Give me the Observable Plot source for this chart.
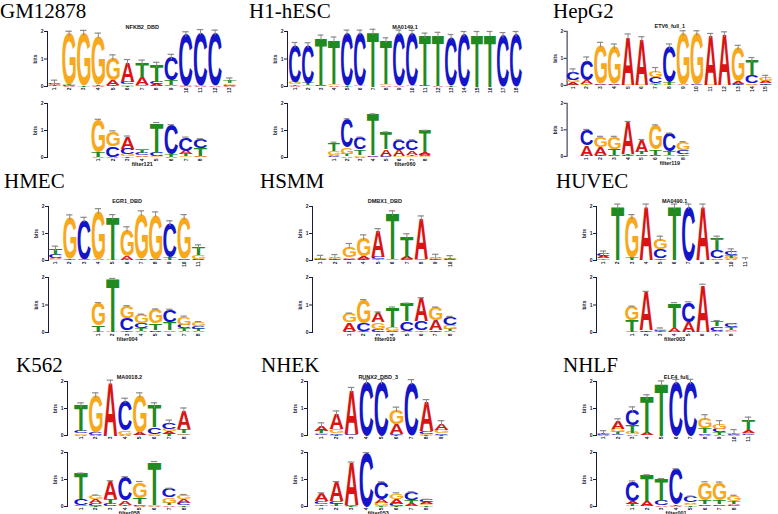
<!DOCTYPE html>
<html><head><meta charset="utf-8">
<script src="https://cdn.jsdelivr.net/npm/d3@7"></script>
<script src="https://cdn.jsdelivr.net/npm/@observablehq/plot@0.6"></script>
<style>
html,body{margin:0;padding:0;background:#fff;overflow:hidden}
#wrap{position:relative;width:778px;height:514px;overflow:hidden;background:#fff}
.cell{position:absolute;font-family:"Liberation Serif","Times New Roman",serif;font-size:21px;line-height:23px;color:#000;white-space:nowrap}
.logo{position:absolute;line-height:0}
.logo svg{overflow:visible}
</style></head><body><div id="wrap"></div>
<script>
// ---------------- data ----------------
const cells = ["GM12878","H1-hESC","HepG2","HMEC","HSMM","HUVEC","K562","NHEK","NHLF"];
const motifNames = ["NFKB2_DBD","MA0149.1","ETV6_full_1","EGR1_DBD","DMBX1_DBD","MA0490.1","MA0018.2","RUNX2_DBD_3","ELF4_full"];
const filterNames = ["filter121","filter060","filter119","filter004","filter019","filter003","filter058","filter053","filter001"];
// offset of filter position 1 within the motif
const filterOffsets = [3,3,1,3,2,2,0,0,2];
const letters = ["A","C","G","T"];
const bitTicks = [0,1,2];

const gm12878Motif = [
 {A:.04,C:.05,G:.02,T:.02},{A:.02,C:.02,G:1.85,T:.02},{G:1.92,T:.02},{G:1.78,T:.04,A:.02},
 {A:.18,G:.82,T:.03,C:.02},{A:.7,C:.1,G:.05,T:.03},{A:.27,T:.55,C:.02,G:.02},{T:.6,A:.08,C:.08,G:.02},
 {C:.85,T:.17,A:.03,G:.02},{C:1.85,T:.02,A:.02},{C:1.93,G:.02,A:.02},{C:1.92,A:.03},{T:.1,G:.05,A:.03,C:.03}];
const gm12878Filter = [
 {G:1.2,T:.18,A:.02},{G:.55,C:.4,A:.02},{A:.45,C:.22,G:.07,T:.04},{T:.12,C:.08,A:.05,G:.03},
 {T:1.1,C:.14,G:.04},{C:1.1,T:.07,A:.03},{C:.5,A:.12,T:.08,G:.04},{C:.35,T:.28,A:.03,G:.02}];

const h1Motif = [
 {C:1.35,G:.07,T:.06,A:.02},{C:1.37,T:.07,G:.05},{T:1.72,A:.03,C:.02},{T:1.6,G:.05,A:.05},
 {C:1.93,T:.02},{C:1.93,G:.02},{T:1.98},{T:1.58,G:.05,A:.04},{C:1.93,A:.02},{C:1.92,G:.02},
 {T:1.82,C:.02},{T:1.85,A:.02},{C:1.77,T:.02},{C:1.9},{T:1.9},{T:1.9},{C:1.86},{C:1.9}];
const h1Filter = [
 {T:.3,G:.15,A:.06,C:.04},{C:1.05,G:.25,T:.07,A:.05},{C:.45,T:.2,G:.06,A:.03},{T:1.52,A:.05,C:.03},
 {T:.62,A:.25,C:.04,G:.02},{C:.38,A:.22,G:.04},{C:.38,A:.16,T:.06,G:.04},{T:.8,A:.08,C:.07,G:.04}];

const hepg2Motif = [
 {C:.3,G:.1,A:.08,T:.03},{C:.75,A:.15,G:.03,T:.02},{G:1.42,A:.04,C:.03},{G:1.35,A:.05,C:.03},
 {A:1.78,G:.02},{A:1.68,G:.02},{G:.25,C:.22,A:.05,T:.04},{C:1.33,T:.07,G:.03},{G:1.9,A:.02},
 {G:1.9,C:.02},{A:1.8,G:.02},{A:1.88},{G:1.25,A:.08,C:.03,T:.02},{T:.55,C:.3,G:.05,A:.03},
 {G:.12,A:.08,C:.05,T:.02}];
const hepg2Filter = [
 {C:.58,A:.4,T:.02},{G:.38,A:.3,C:.04,T:.02},{G:.45,T:.22,A:.05,C:.02},{A:1.2,T:.05,C:.03,G:.02},
 {A:.45,T:.08,C:.06,G:.03},{G:.92,T:.2,C:.03,A:.02},{C:.68,T:.13,G:.03,A:.02},{G:.3,C:.16,A:.05,T:.03}];

const hmecMotif = [
 {T:.22,C:.12,A:.05,G:.04},{G:1.52,A:.05,T:.02},{C:1.45,A:.03,G:.02},{G:1.8,A:.02},{T:1.58,G:.02},
 {G:.98,A:.15,T:.02},{G:1.68,T:.04,A:.02},{G:1.65,A:.03,C:.02},{C:1.25,T:.1,G:.02},
 {G:1.52,A:.06,C:.02},{T:.28,G:.13,C:.04,A:.03}];
const hmecFilter = [
 {G:.82,T:.22,A:.03},{T:1.93,G:.02},{G:.45,C:.44,T:.05,A:.02},{G:.32,C:.18,T:.1,A:.05},
 {G:.5,T:.25,C:.06,A:.03},{C:.45,T:.3,G:.05,A:.03},{G:.3,C:.12,T:.1,A:.06},{G:.15,C:.1,T:.08,A:.05}];

const hsmmMotif = [
 {G:.03,A:.02,C:.02,T:.02},{A:.04,C:.03,G:.03,T:.02},{G:.4,A:.06,C:.05,T:.02},{G:.7,A:.09,C:.04,T:.02},
 {A:.95,C:.07,G:.04,T:.02},{T:1.7,G:.02,A:.02},{T:.75,A:.07,C:.05,G:.02},{A:1.5,G:.03,C:.02},
 {A:.05,G:.04,C:.02,T:.02},{G:.02,A:.02,C:.02,T:.02}];
const hsmmFilter = [
 {G:.33,A:.3,C:.04,T:.02},{G:.85,C:.28,A:.03,T:.02},{A:.35,G:.25,C:.1,T:.03},{T:.72,G:.12,A:.05,C:.02},
 {T:.65,C:.35,A:.03,G:.02},{A:.85,C:.33,G:.04,T:.03},{G:.45,A:.38,C:.05,T:.03},{C:.3,G:.15,T:.08,A:.04}];

const huvecMotif = [
 {A:.08,C:.08,G:.06,T:.03},{T:1.99},{G:1.5,T:.1},{A:1.99},{G:.38,C:.35,A:.04,T:.03},{T:1.99},
 {C:1.99},{A:1.99},{T:.42,C:.3,A:.05,G:.03},{C:.14,T:.08,G:.07,A:.04},{A:0,C:0,G:0,T:0}];
const huvecFilter = [
 {G:.5,T:.42,A:.02},{A:1.4,C:.05,T:.03},{G:.05,C:.04,A:.03,T:.03},{T:.9,A:.15,C:.02},
 {C:.72,A:.35,T:.03},{A:1.72,G:.02},{T:.2,C:.15,A:.04,G:.03},{C:.12,T:.08,A:.06,G:.04}];

const k562Motif = [
 {T:.95,C:.08,G:.06,A:.02},{G:1.38,C:.08,A:.02},{A:1.95},{C:1.1,G:.15,A:.03},{G:1.38,A:.08,C:.02},
 {T:.8,C:.25,G:.04,A:.02},{C:.22,G:.1,A:.08,T:.07},{A:.68,T:.15,G:.06,C:.03}];
const k562Filter = [
 {T:.95,C:.22,A:.03,G:.02},{G:.15,A:.13,C:.1,T:.03},{A:.65,T:.2,C:.07,G:.02},{C:.88,A:.15,G:.03,T:.03},
 {G:.6,T:.22,C:.06,A:.03},{T:1.58,G:.05,A:.02},{C:.32,G:.2,T:.08,A:.06},{G:.16,A:.13,C:.09,T:.05}];

const nhekMotif = [
 {A:.2,T:.08,G:.05,C:.04},{A:.58,G:.15,C:.05,T:.03},{A:1.62,C:.04,G:.02},{C:1.98},{C:1.98},
 {G:.52,A:.38,C:.03,T:.02},{C:1.97},{A:1.08,C:.08,G:.05,T:.02},{A:.25,G:.12,C:.05,T:.03}];
const nhekFilter = [
 {A:.3,C:.1,T:.06,G:.03},{A:.72,C:.1,T:.07,G:.02},{A:1.58,C:.03,T:.02},{C:1.98},
 {C:.62,A:.14,G:.12,T:.02},{G:.2,A:.18,C:.08,T:.03},{C:.3,T:.12,A:.08,G:.03},{C:.08,A:.07,G:.06,T:.04}];

const nhlfMotif = [
 {A:.02,C:.02,G:.02,T:.02},{A:.28,G:.12,T:.08,C:.04},{C:.58,T:.27,G:.07,A:.04},{T:1.32,A:.07,G:.02},
 {T:1.92},{C:1.98},{C:1.98},{G:.38,T:.2,C:.06,A:.03},{G:.2,C:.12,T:.1,A:.03},{G:.05,T:.03,A:.02,C:.02},
 {T:.38,A:.1,G:.06,C:.04}];
const nhlfFilter = [
 {C:.72,A:.1,T:.08,G:.03},{T:.95,A:.18,C:.03},{T:.8,C:.18,A:.04},{C:1.3,T:.06,A:.02},
 {C:.22,A:.06,G:.05,T:.04},{G:.65,T:.16,A:.06,C:.03},{G:.65,T:.15,A:.06,C:.03},{G:.2,T:.1,A:.06,C:.04}];

const motifs = [gm12878Motif,h1Motif,hepg2Motif,hmecMotif,hsmmMotif,huvecMotif,k562Motif,nhekMotif,nhlfMotif];
const filters = [gm12878Filter,h1Filter,hepg2Filter,hmecFilter,hsmmFilter,huvecFilter,k562Filter,nhekFilter,nhlfFilter];

// ---------------- layout (pixels) ----------------
const rowY = [[31,86,103,157],[206,260,277,332],[381,435,452,506]];
const labelTop = [0,170.4,354.4];
const panelLayout = [
 {lx:0,   axis:47,  first:54,    s:14.6},
 {lx:249, axis:287, first:294.5, s:13},
 {lx:553, axis:567, first:573,   s:14},
 {lx:4,   axis:48,  first:55,    s:14.3},
 {lx:260, axis:312, first:320,   s:14.4},
 {lx:556, axis:596, first:603,   s:14.2},
 {lx:16,  axis:67,  first:80.5,  s:14.7},
 {lx:261, axis:307, first:321,   s:15},
 {lx:563, axis:596, first:603,   s:14.5}
];
const colors = {A:"#d81414", C:"#1414c8", G:"#f7a81b", T:"#1f8a1f"};
const FONT = '"Liberation Sans", Arial, sans-serif';

// glyph ink metrics
const cv = document.createElement("canvas").getContext("2d");
cv.font = 'bold 100px "Liberation Sans"';
const metrics = {};
for (const L of letters) {
  const m = cv.measureText(L);
  metrics[L] = {
    left: m.actualBoundingBoxLeft ?? -3, right: m.actualBoundingBoxRight ?? 70,
    asc: m.actualBoundingBoxAscent ?? 72, desc: m.actualBoundingBoxDescent ?? 1
  };
}
function scaleFn(sc) {
  if (sc && typeof sc.apply === "function") return (v) => sc.apply(v);
  return d3.scaleLinear(sc.domain, sc.range);
}

const wrap = document.getElementById("wrap");

function drawLogo(cols, {axis, first, s, off, nTop, y2, y0, title, xlabel, err}) {
  const rows = [], tops = [];
  cols.forEach((c, j) => {
    const ents = letters.map(L => [L, c[L] || 0]).filter(d => d[1] > 0.004).sort((a, b) => a[1] - b[1]);
    let acc = 0;
    for (const [L, h] of ents) { rows.push({pos: j + 1, letter: L, y0: acc, y1: acc + h}); acc += h; }
    tops.push({pos: j + 1, top: acc});
  });
  const d0 = 1 - (first - axis) / s, d1 = nTop + 0.5;
  const ML = 24, MR = 6, MT = 12, MB = 14;
  const frameW = (d1 - d0) * s, frameH = y0 - y2;
  const ticks = d3.range(1, cols.length + 1);
  const marks = [
    Plot.text(rows, {x: "pos", y: "y0", text: "letter", fill: "letter", fontSize: 100,
      fontFamily: FONT, fontWeight: "bold", textAnchor: "start"}),
    Plot.ruleX(tops, {x: "pos", y1: d => Math.max(0, d.top - err), y2: d => d.top + err, stroke: "#8a8a8a", strokeWidth: 1}),
    Plot.ruleY(tops, {y: d => d.top + err, x1: d => d.pos - 0.22, x2: d => d.pos + 0.22, stroke: "#8a8a8a", strokeWidth: 1.2})
  ];
  if (title) marks.push(Plot.text([title], {text: d => d, frameAnchor: "top", lineAnchor: "bottom", dy: -3, fontSize: 5.5, fontWeight: "bold", fill: "#111"}));
  if (xlabel) marks.push(Plot.text([xlabel], {text: d => d, frameAnchor: "bottom", lineAnchor: "top", dy: 5, fontSize: 5.5, fontWeight: "bold", fill: "#111"}));
  const plot = Plot.plot({
    width: ML + frameW + MR, height: MT + frameH + MB,
    marginLeft: ML, marginRight: MR, marginTop: MT, marginBottom: MB,
    style: {fontFamily: FONT, fontSize: "5px", fontWeight: "bold", background: "transparent", color: "#1a1a3a", overflow: "visible"},
    x: {domain: [d0 - off, d1 - off], ticks, tickFormat: d => String(d), tickSize: 0, tickPadding: 1, tickRotate: -90, label: null},
    y: {domain: [0, 2], ticks: bitTicks, tickFormat: d => String(d), tickSize: 3, tickPadding: 1, label: "bits", labelAnchor: "center", labelOffset: 14, labelArrow: "none", line: true},
    color: {domain: letters, range: letters.map(L => colors[L])},
    marks
  });
  const div = document.createElement("div");
  div.className = "logo";
  div.style.left = (axis - ML) + "px";
  div.style.top = (y2 - MT) + "px";
  div.appendChild(plot);
  wrap.appendChild(div);
  const fx = scaleFn(plot.scale("x")), fy = scaleFn(plot.scale("y"));
  let g = d3.select(plot).select('g[font-size="100"]');
  if (g.empty()) g = d3.select(plot).select('g[aria-label="text"]');
  g.selectAll("text").each(function(i) {
    const r = rows[i]; if (!r) return;
    const m = metrics[r.letter];
    const xa = fx(r.pos - 0.46), xb = fx(r.pos + 0.46);
    const ya = fy(r.y1), yb = fy(r.y0);
    const sx = (xb - xa) / (m.left + m.right), sy = (yb - ya) / (m.asc + m.desc);
    d3.select(this).attr("x", null).attr("y", null).attr("dy", null).attr("dx", null)
      .attr("transform", `translate(${xa + m.left * sx},${yb - m.desc * sy}) scale(${sx},${sy})`);
  });
}

cells.forEach((name, k) => {
  const L = panelLayout[k], R = rowY[Math.floor(k / 3)];
  const lab = document.createElement("div");
  lab.className = "cell"; lab.textContent = name;
  lab.style.left = L.lx + "px"; lab.style.top = labelTop[Math.floor(k / 3)] + "px";
  wrap.appendChild(lab);
  const nTop = motifs[k].length;
  drawLogo(motifs[k], {axis: L.axis, first: L.first, s: L.s, off: 0, nTop, y2: R[0], y0: R[1], title: motifNames[k], err: 0.1});
  drawLogo(filters[k], {axis: L.axis, first: L.first, s: L.s, off: filterOffsets[k], nTop, y2: R[2], y0: R[3], xlabel: filterNames[k], err: 0.015});
});
</script></body></html>
